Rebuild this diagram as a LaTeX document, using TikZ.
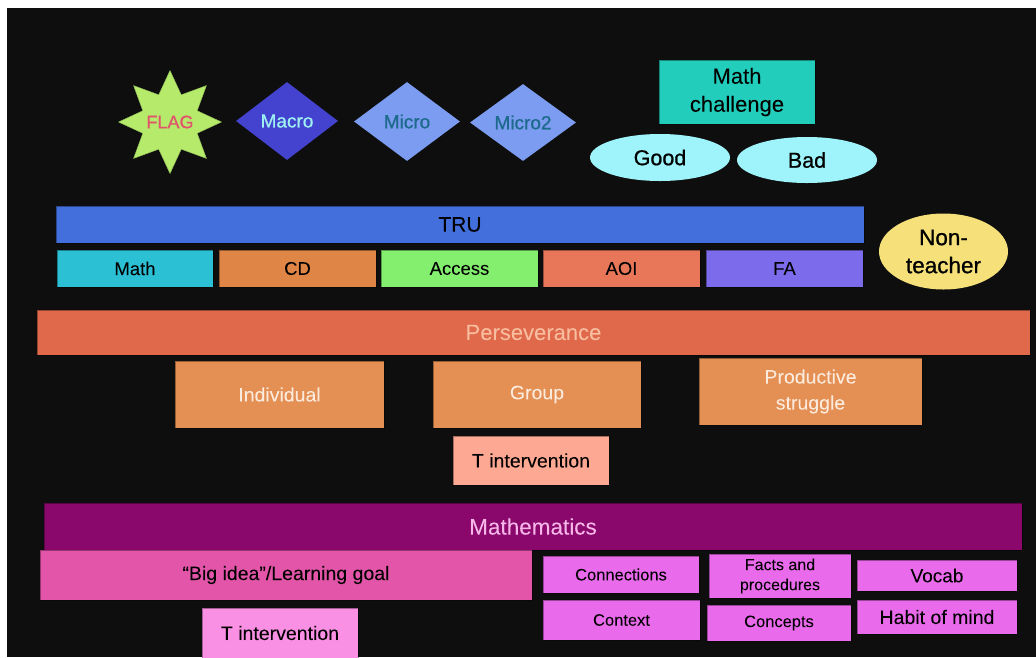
\documentclass[tikz,border=0pt]{standalone}
\usepackage{fontspec}
\setmainfont{Liberation Sans}[UprightFeatures={FakeBold=0.8}]
\usetikzlibrary{shapes.geometric}
\definecolor{bg}{HTML}{0E0E0E}
\definecolor{flagfill}{HTML}{B5EA6B}
\definecolor{flagtxt}{HTML}{E2546C}
\definecolor{macrofill}{HTML}{4343CF}
\definecolor{macrotxt}{HTML}{9FF0F2}
\definecolor{microfill}{HTML}{7B9CF0}
\definecolor{microtxt}{HTML}{1C6A8C}
\definecolor{mcfill}{HTML}{22CDBB}
\definecolor{gbfill}{HTML}{9EF4FA}
\definecolor{trufill}{HTML}{436FDD}
\definecolor{mathfill}{HTML}{2BC0D4}
\definecolor{cdfill}{HTML}{DF8545}
\definecolor{accfill}{HTML}{84EF6E}
\definecolor{aoifill}{HTML}{E8775A}
\definecolor{fafill}{HTML}{7C6BEA}
\definecolor{ntfill}{HTML}{F5E07A}
\definecolor{perfill}{HTML}{E0694B}
\definecolor{pertxt}{HTML}{F8BC9E}
\definecolor{orfill}{HTML}{E48F53}
\definecolor{ortxt}{HTML}{FCEBDD}
\definecolor{tifill}{HTML}{FDA892}
\definecolor{mathsfill}{HTML}{8A086B}
\definecolor{mathstxt}{HTML}{F7B6EA}
\definecolor{bigfill}{HTML}{E255A9}
\definecolor{ti2fill}{HTML}{FA90E4}
\definecolor{pkfill}{HTML}{EA6AEC}
\tikzset{
  rbox/.style={rectangle, draw=black, draw opacity=0.35, line width=0.8pt, inner sep=0pt, align=center, text=black},
  dia/.style={diamond, inner sep=0pt, align=center},
  oval/.style={ellipse, inner sep=0pt, align=center, text=black},
}
\begin{document}
\begin{tikzpicture}[x=1pt,y=-1pt]
\useasboundingbox (0,0) rectangle (1036,657);
\fill[white] (0,0) rectangle (1036,657);
\fill[bg] (7,8) rectangle (1036,657);

% top row
\node[star, star points=8, star point ratio=1.75, minimum size=103pt, inner sep=0pt, fill=flagfill, draw=flagfill!80!black, line width=0.4pt] (flag) at (170,122) {};
\node[text=flagtxt, inner sep=0pt, font=\fontsize{18}{20}\selectfont] (flaglbl) at (flag.center) {FLAG};
\node[dia, minimum width=102pt, minimum height=78pt, fill=macrofill, text=macrotxt, font=\fontsize{19}{21}\selectfont] (macro) at (287,121) {Macro};
\node[dia, minimum width=106pt, minimum height=79pt, fill=microfill, text=microtxt, font=\fontsize{19}{21}\selectfont] (micro) at (407,121.5) {Micro};
\node[dia, minimum width=106pt, minimum height=77pt, fill=microfill, text=microtxt, font=\fontsize{19}{21}\selectfont] (micro2) at (523,122.5) {Micro2};

\node[rbox, fill=mcfill, minimum width=156pt, minimum height=64pt, font=\fontsize{22}{28}\selectfont] (mc) at (737,92) {Math\\challenge};
\node[oval, fill=gbfill, minimum width=140pt, minimum height=47pt, font=\fontsize{21.5}{23}\selectfont] (good) at (660,157.5) {Good};
\node[oval, fill=gbfill, minimum width=140pt, minimum height=46pt, font=\fontsize{21.5}{23}\selectfont] (bad) at (807,160) {Bad};

% TRU
\node[rbox, fill=trufill, minimum width=808pt, minimum height=37pt, font=\fontsize{21}{23}\selectfont] (tru) at (460,224.5) {TRU};
\node[rbox, fill=mathfill, minimum width=156pt, minimum height=37pt, font=\fontsize{18.5}{20}\selectfont] (math) at (135,268.5) {Math};
\node[rbox, fill=cdfill, minimum width=157pt, minimum height=37pt, font=\fontsize{18.5}{20}\selectfont] (cd) at (297.5,268.5) {CD};
\node[rbox, fill=accfill, minimum width=157pt, minimum height=37pt, font=\fontsize{18.5}{20}\selectfont] (access) at (459.5,268.5) {Access};
\node[rbox, fill=aoifill, minimum width=157pt, minimum height=37pt, font=\fontsize{18.5}{20}\selectfont] (aoi) at (621.5,268.5) {AOI};
\node[rbox, fill=fafill, minimum width=157pt, minimum height=37pt, font=\fontsize{18.5}{20}\selectfont] (fa) at (784.5,268.5) {FA};
\node[oval, fill=ntfill, minimum width=129pt, minimum height=76pt, font=\fontsize{22.5}{28}\selectfont] (nt) at (943.5,251.5) {Non-\\teacher};

% Perseverance
\node[rbox, fill=perfill, text=pertxt, minimum width=993pt, minimum height=45pt, font=\fontsize{22}{24}\selectfont] (per) at (533.5,332.5) {Perseverance};
\node[rbox, fill=orfill, text=ortxt, minimum width=209pt, minimum height=67pt, font=\fontsize{19.5}{21}\selectfont] (ind) at (279.5,394.5) {Individual};
\node[rbox, fill=orfill, text=ortxt, minimum width=208pt, minimum height=67pt, font=\fontsize{19.5}{21}\selectfont] (grp) at (537,394.5) {Group};
\node[rbox, fill=orfill, text=ortxt, minimum width=223pt, minimum height=67pt, font=\fontsize{19.5}{26}\selectfont] (prod) at (810.5,391.5) {Productive\\struggle};
\node[rbox, fill=tifill, minimum width=156pt, minimum height=49pt, font=\fontsize{19.5}{21}\selectfont] (ti1) at (531,460.5) {T intervention};

% Mathematics
\node[rbox, fill=mathsfill, text=mathstxt, minimum width=978pt, minimum height=47pt, font=\fontsize{22.5}{24}\selectfont] (maths) at (533,526.5) {Mathematics};
\node[rbox, fill=bigfill, minimum width=492pt, minimum height=50pt, font=\fontsize{19.5}{21}\selectfont] (big) at (286,575) {“Big idea”/Learning goal};
\node[rbox, fill=ti2fill, minimum width=156pt, minimum height=50pt, font=\fontsize{19.5}{21}\selectfont] (ti2) at (280,633) {T intervention};
\node[rbox, fill=pkfill, minimum width=156pt, minimum height=37pt, font=\fontsize{16.5}{18}\selectfont] (conn) at (621,574.5) {Connections};
\node[rbox, fill=pkfill, minimum width=142pt, minimum height=44pt, font=\fontsize{16}{20}\selectfont] (facts) at (780,576) {Facts and\\procedures};
\node[rbox, fill=pkfill, minimum width=160pt, minimum height=31pt, font=\fontsize{19}{21}\selectfont] (vocab) at (937,575.5) {Vocab};
\node[rbox, fill=pkfill, minimum width=157pt, minimum height=40pt, font=\fontsize{16.5}{18}\selectfont] (ctx) at (621.5,620) {Context};
\node[rbox, fill=pkfill, minimum width=144pt, minimum height=36pt, font=\fontsize{16.5}{18}\selectfont] (conc) at (779,623) {Concepts};
\node[rbox, fill=pkfill, minimum width=160pt, minimum height=34pt, font=\fontsize{19.5}{21}\selectfont] (habit) at (937,617) {Habit of mind};
\end{tikzpicture}
\end{document}
